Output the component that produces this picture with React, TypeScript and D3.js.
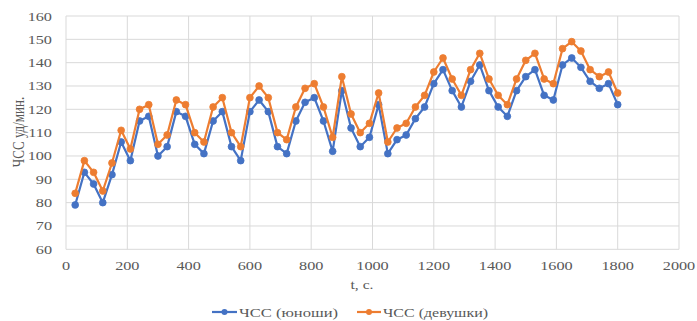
import React from "react";
import * as d3 from "d3";

const times = [30,60,90,120,150,180,210,240,270,300,330,360,390,420,450,480,510,540,570,600,630,660,690,720,750,780,810,840,870,900,930,960,990,1020,1050,1080,1110,1140,1170,1200,1230,1260,1290,1320,1350,1380,1410,1440,1470,1500,1530,1560,1590,1620,1650,1680,1710,1740,1770,1800];
const boys = [79,93,88,80,92,106,98,115,117,100,104,119,117,105,101,115,119,104,98,119,124,119,104,101,115,123,125,115,102,128,112,104,108,122,101,107,109,116,121,131,137,128,121,132,139,128,121,117,128,134,137,126,124,139,142,138,132,129,131,122];
const girls = [84,98,93,85,97,111,103,120,122,105,109,124,122,110,106,121,125,110,104,125,130,125,110,107,121,129,131,121,108,134,118,110,114,127,106,112,114,121,126,136,142,133,126,137,144,133,126,122,133,141,144,133,131,146,149,145,137,134,136,127];
const xTicks = [0,200,400,600,800,1000,1200,1400,1600,1800,2000];
const yTicks = [60,70,80,90,100,110,120,130,140,150,160];
const seriesNames = ["ЧСС (юноши)", "ЧСС (девушки)"];
const yTitle = "ЧСС уд/мин.";
const xTitle = "t, c.";

const W = 697, H = 321;
const left = 66, right = 679, top = 16, bottom = 249.3;
const BLUE = "#4472C4", ORANGE = "#ED7D31";
const FONT = "'Liberation Serif', 'Times New Roman', serif";
const SX = 1.3;

export default function App() {
  const x = d3.scaleLinear().domain([0, 2000]).range([left, right]);
  const y = d3.scaleLinear().domain([60, 160]).range([bottom, top]);
  const line = d3.line<number>().x((_, i) => x(times[i])).y((d) => y(d));
  const series = [
    { name: seriesNames[0], values: boys, color: BLUE },
    { name: seriesNames[1], values: girls, color: ORANGE },
  ];
  const legend = [
    { lx1: 212, lx2: 237, tx: 239, tw: 99 },
    { lx1: 357, lx2: 381, tx: 383, tw: 105 },
  ];
  return (
    <svg width={W} height={H} style={{ position: "absolute", left: 0, top: 0, background: "#fff" }}>
      <rect x={0} y={0} width={W} height={H} fill="#fff" />
      {yTicks.map((t) => (
        <line key={"gy" + t} x1={left} x2={right} y1={y(t)} y2={y(t)} stroke="#d9d9d9" strokeWidth={1} />
      ))}
      {xTicks.map((t) => (
        <line key={"gx" + t} x1={x(t)} x2={x(t)} y1={top} y2={bottom} stroke="#d9d9d9" strokeWidth={1} />
      ))}
      {yTicks.map((t) => (
        <g key={"ty" + t} transform={`translate(52,${y(t) + 4.5}) scale(${SX},1)`}>
          <text textAnchor="end" fontFamily={FONT} fontSize={12.5} fill="#595959">{t}</text>
        </g>
      ))}
      {xTicks.map((t) => (
        <g key={"tx" + t} transform={`translate(${x(t)},${270}) scale(${SX},1)`}>
          <text textAnchor="middle" fontFamily={FONT} fontSize={12.5} fill="#595959">{t}</text>
        </g>
      ))}
      <g transform={`translate(24,${132}) rotate(-90) scale(1,${SX})`}>
        <text textAnchor="middle" fontFamily={FONT} fontSize={13} fill="#595959">{yTitle}</text>
      </g>
      <g transform={`translate(362,${289}) scale(${SX},1)`}>
        <text textAnchor="middle" fontFamily={FONT} fontSize={12} fill="#595959">{xTitle}</text>
      </g>
      {series.map((s) => (
        <g key={s.name}>
          <path d={line(s.values) || ""} fill="none" stroke={s.color} strokeWidth={2.2} strokeLinejoin="round" />
          {s.values.map((v, i) => (
            <circle key={i} cx={x(times[i])} cy={y(v)} r={3.4} fill={s.color} stroke={s.color} strokeWidth={0.8} />
          ))}
        </g>
      ))}
      {series.map((s, i) => {
        const L = legend[i];
        return (
          <g key={"lg" + i}>
            <line x1={L.lx1} x2={L.lx2} y1={312} y2={312} stroke={s.color} strokeWidth={2.2} />
            <circle cx={(L.lx1 + L.lx2) / 2} cy={312} r={3} fill={s.color} />
            <text x={L.tx} y={316.5} fontFamily={FONT} fontSize={13} fill="#595959" textLength={L.tw} lengthAdjust="spacingAndGlyphs">{s.name}</text>
          </g>
        );
      })}
    </svg>
  );
}
